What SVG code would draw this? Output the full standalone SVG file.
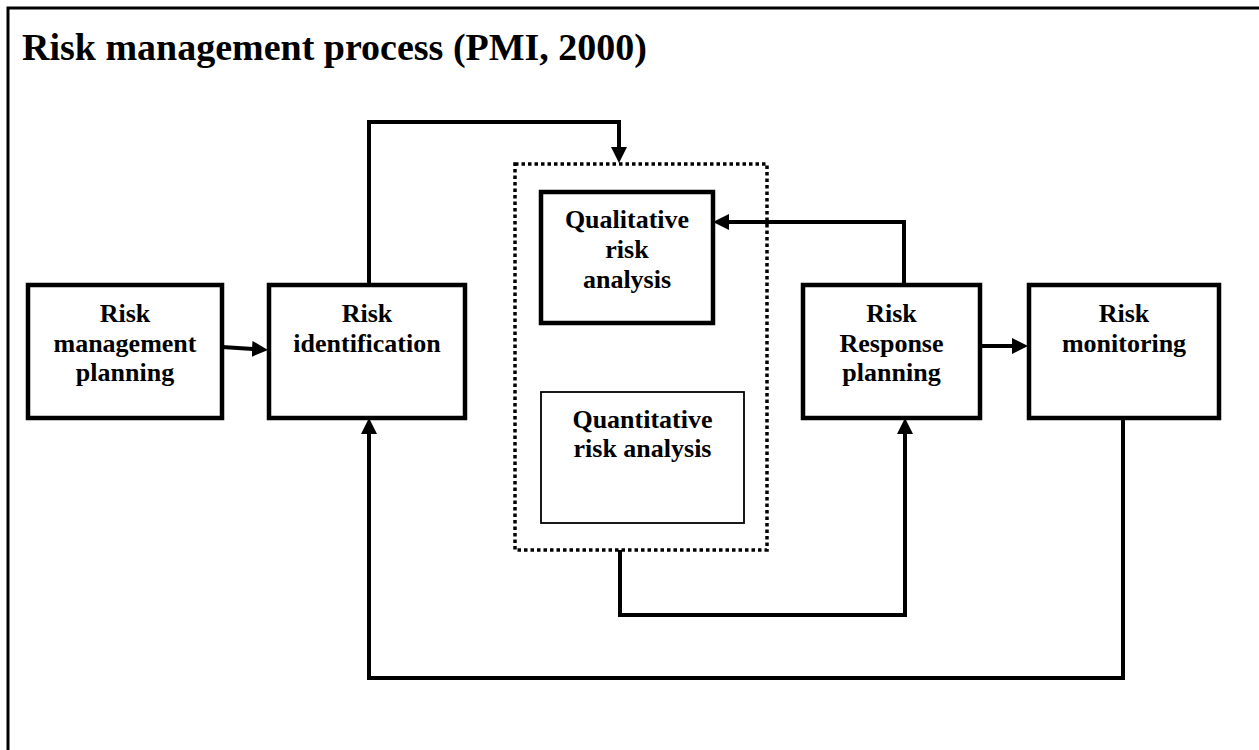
<svg xmlns="http://www.w3.org/2000/svg" width="1259" height="750" viewBox="0 0 1259 750">
<defs>
<marker id="ah" viewBox="0 0 16 16" refX="1" refY="8" markerWidth="16" markerHeight="16" markerUnits="userSpaceOnUse" orient="auto">
<path d="M0,0 L16,8 L0,16 Z" fill="#000"/>
</marker>
</defs>
<style>
.box{fill:#fff;stroke:#000;stroke-width:4.5}
.thin{fill:#fff;stroke:#000;stroke-width:1.8}
.dot{fill:none;stroke:#000;stroke-width:3.5;stroke-dasharray:3.5 3}
.lbl{font-family:"Liberation Serif","Times New Roman",serif;font-weight:bold;font-size:26px;text-anchor:middle;fill:#000}
.con{fill:none;stroke:#000;stroke-width:4;marker-end:url(#ah)}
</style>
<rect width="1259" height="750" fill="#fff"/>
<path d="M8,760 V8 H1270" fill="none" stroke="#000" stroke-width="3"/>
<text x="22" y="60" font-family="Liberation Serif, Times New Roman, serif" font-weight="bold" font-size="37" textLength="625" lengthAdjust="spacingAndGlyphs">Risk management process (PMI, 2000)</text>
<g id="analysis-group">
<rect class="dot" x="515" y="164" width="252" height="386"/>
</g>
<g id="connectors">
<path class="con" d="M222,347 L253,349"/>
<path class="con" d="M369,285 V122 H619 V148"/>
<path class="con" d="M904,285 V222 H728"/>
<path class="con" d="M980,346 H1013"/>
<path class="con" d="M620,550 V615 H905 V433"/>
<path class="con" d="M1123,418 V678 H369 V433"/>
</g>
<g id="rmp">
<rect class="box" x="28" y="285" width="194" height="133"/>
<text class="lbl" x="125" y="322">Risk</text>
<text class="lbl" x="125" y="352">management</text>
<text class="lbl" x="125" y="381">planning</text>
</g>
<g id="ri">
<rect class="box" x="269" y="285" width="196" height="133"/>
<text class="lbl" x="367" y="322">Risk</text>
<text class="lbl" x="367" y="352">identification</text>
</g>
<g id="qual">
<rect class="box" x="541" y="192" width="172" height="131"/>
<text class="lbl" x="627" y="228">Qualitative</text>
<text class="lbl" x="627" y="258">risk</text>
<text class="lbl" x="627" y="288">analysis</text>
</g>
<g id="quant">
<rect class="thin" x="541" y="392" width="203" height="131"/>
<text class="lbl" x="642.5" y="428">Quantitative</text>
<text class="lbl" x="642.5" y="457">risk analysis</text>
</g>
<g id="rrp">
<rect class="box" x="803" y="285" width="177" height="133"/>
<text class="lbl" x="891.5" y="322">Risk</text>
<text class="lbl" x="891.5" y="352">Response</text>
<text class="lbl" x="891.5" y="381">planning</text>
</g>
<g id="rm">
<rect class="box" x="1029" y="285" width="190" height="133"/>
<text class="lbl" x="1124" y="322">Risk</text>
<text class="lbl" x="1124" y="352">monitoring</text>
</g>
</svg>
